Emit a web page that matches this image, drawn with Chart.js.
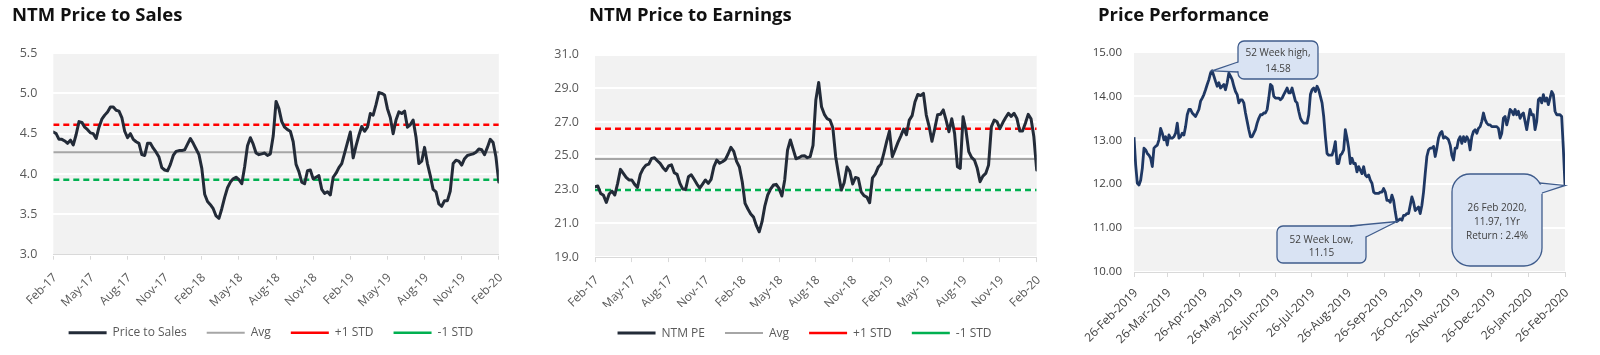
<!DOCTYPE html>
<html><head><meta charset="utf-8">
<script src="https://cdn.jsdelivr.net/npm/chart.js@4.4.1/dist/chart.umd.min.js"></script>
<style>
html,body{margin:0;padding:0;background:#fff;width:1600px;height:355px;overflow:hidden;}
.panel{position:absolute;top:0;height:355px;}
.panel canvas{position:absolute;left:0;top:0;}
.title{position:absolute;top:1px;font-family:"Open Sans",sans-serif;font-weight:bold;font-size:18.5px;color:#111;white-space:nowrap;}
</style></head><body>
<div class="panel" style="left:0;width:520px"><canvas id="c1" width="520" height="355"></canvas><div class="title" style="left:12px">NTM Price to Sales</div></div>
<div class="panel" style="left:540px;width:520px"><canvas id="c2" width="520" height="355"></canvas><div class="title" style="left:49px">NTM Price to Earnings</div></div>
<div class="panel" style="left:1070px;width:530px"><canvas id="c3" width="530" height="355"></canvas><div class="title" style="left:28px">Price Performance</div></div>
<script>
// ---------- DATA ----------
const QUARTER_LABELS = ['Feb-17','May-17','Aug-17','Nov-17','Feb-18','May-18','Aug-18','Nov-18','Feb-19','May-19','Aug-19','Nov-19','Feb-20'];
const WEEKS_PER_QUARTER = 13;

// NTM Price to Sales, weekly
const PS_VALUES = [
4.52,4.50,4.43,4.43,4.41,4.38,4.42,4.36,4.49,4.65,
4.64,4.58,4.55,4.51,4.50,4.44,4.58,4.68,4.73,4.77,
4.83,4.83,4.79,4.78,4.70,4.53,4.45,4.50,4.43,4.40,
4.38,4.24,4.23,4.38,4.38,4.32,4.27,4.21,4.08,4.05,
4.04,4.12,4.23,4.28,4.29,4.29,4.30,4.37,4.44,4.38,
4.31,4.24,4.07,3.75,3.66,3.62,3.57,3.48,3.45,3.57,
3.71,3.83,3.90,3.94,3.96,3.93,3.88,4.09,4.35,4.45,
4.37,4.26,4.24,4.25,4.26,4.23,4.25,4.47,4.90,4.81,
4.65,4.58,4.55,4.53,4.40,4.12,4.03,3.90,3.88,4.04,
4.05,3.94,3.96,3.98,3.81,3.76,3.78,3.74,3.96,4.01,
4.08,4.13,4.26,4.39,4.52,4.20,4.35,4.48,4.59,4.53,
4.58,4.75,4.73,4.86,5.01,5.00,4.98,4.81,4.70,4.50,
4.67,4.77,4.75,4.78,4.58,4.61,4.67,4.46,4.13,4.16,
4.33,4.13,3.98,3.81,3.78,3.63,3.60,3.67,3.67,3.79,
4.13,4.17,4.16,4.11,4.19,4.23,4.24,4.25,4.27,4.31,
4.30,4.24,4.33,4.43,4.39,4.21,3.90];
const PS_AVG = 4.27, PS_PLUS1 = 4.61, PS_MINUS1 = 3.93;

// NTM Price to Earnings, weekly
const PE_VALUES = [
23.17,23.21,22.77,22.66,22.24,22.74,22.91,22.68,23.37,24.20,
23.96,23.72,23.57,23.57,23.31,23.13,23.90,24.24,24.45,24.51,
24.85,24.89,24.71,24.55,24.30,24.12,24.40,24.47,24.00,23.90,
23.37,23.03,23.01,23.76,23.88,23.61,23.33,23.09,23.33,23.57,
23.37,23.61,24.36,24.75,24.57,24.65,24.77,25.11,25.50,25.27,
24.67,24.34,23.47,22.18,21.85,21.55,21.37,20.86,20.50,21.10,
22.04,22.68,23.03,23.27,23.31,23.07,22.62,23.57,25.34,25.94,
25.38,24.83,24.89,24.99,25.01,24.89,24.95,25.62,28.31,29.35,
27.91,27.46,27.20,27.12,26.67,24.95,23.92,22.97,23.41,24.34,
24.08,23.33,23.72,23.66,22.87,22.64,22.56,22.22,23.70,23.92,
24.32,24.51,25.15,25.84,26.47,24.95,25.36,25.80,26.17,26.59,
26.25,27.12,27.38,28.19,28.64,28.57,28.70,27.42,26.75,25.86,
26.61,27.44,27.46,27.72,27.12,26.43,27.20,26.33,24.36,24.26,
27.32,26.53,25.25,24.91,24.75,24.26,23.47,23.80,23.96,24.45,
26.73,27.12,27.02,26.61,26.96,27.26,27.52,27.34,27.52,27.22,
26.47,26.47,26.93,27.46,27.20,26.13,24.16];
const PE_AVG = 24.81, PE_PLUS1 = 26.61, PE_MINUS1 = 22.97;

// Price performance, 26-Feb-2019 .. 26-Feb-2020 (trading sessions)
const PP_PRICES = [
13.07,
12.44,12.02,11.98,12.09,12.36,12.82,12.78,12.70,12.66,12.59,
12.40,12.82,12.86,12.89,13.01,13.27,13.16,13.01,13.08,12.89,
13.12,13.05,13.05,13.08,13.16,13.39,13.05,13.08,13.16,13.12,
13.31,13.58,13.70,13.70,13.62,13.58,13.54,13.62,13.70,13.89,
13.96,14.04,14.15,14.27,14.38,14.53,14.58,14.46,14.34,14.23,
14.31,14.19,14.23,14.27,14.15,14.31,14.53,14.46,14.38,14.23,
14.11,14.04,13.85,13.92,13.92,13.85,13.62,13.43,13.24,13.08,
13.08,13.16,13.24,13.39,13.50,13.58,13.58,13.62,13.62,13.70,
13.96,14.27,14.23,14.00,13.96,13.96,13.96,13.92,13.96,14.04,
14.11,14.19,14.08,14.08,14.19,14.04,13.89,13.85,13.66,13.50,
13.43,13.39,13.39,13.39,13.58,14.04,14.15,14.19,14.11,14.23,
14.15,14.00,13.85,13.54,13.08,12.70,12.66,12.66,12.66,12.78,
12.97,12.47,12.47,12.66,12.70,12.78,13.24,13.05,12.82,12.47,
12.59,12.47,12.47,12.28,12.40,12.32,12.24,12.40,12.21,12.17,
12.21,12.09,12.02,11.82,11.79,11.79,11.79,11.82,11.82,11.90,
11.82,11.63,11.63,11.59,11.75,11.63,11.37,11.15,11.18,11.21,
11.18,11.29,11.29,11.33,11.33,11.52,11.71,11.59,11.40,11.44,
11.48,11.33,11.52,11.82,12.24,12.63,12.78,12.82,12.82,12.86,
12.63,12.82,13.05,13.16,13.20,13.05,13.08,13.05,13.01,12.89,
12.66,12.55,12.82,12.82,13.01,13.08,12.93,13.08,12.97,13.08,
13.01,12.78,13.08,13.20,13.24,13.16,13.27,13.31,13.43,13.62,
13.47,13.39,13.35,13.35,13.31,13.31,13.31,13.31,13.27,13.05,
13.16,13.50,13.54,13.35,13.50,13.70,13.66,13.58,13.70,13.58,
13.66,13.50,13.58,13.62,13.43,13.24,13.47,13.70,13.58,13.58,
13.24,13.43,13.92,13.96,13.85,14.04,13.89,13.96,13.81,13.96,
14.11,14.04,13.66,13.58,13.58,13.58,13.54,12.82,11.97];
const PP_SPAN_DAYS = 365;
const PP_TICK_DAYS = [0,28,59,89,120,150,181,212,242,273,303,334,365];
const PP_TICK_LABELS = ['26-Feb-2019','26-Mar-2019','26-Apr-2019','26-May-2019','26-Jun-2019','26-Jul-2019','26-Aug-2019','26-Sep-2019','26-Oct-2019','26-Nov-2019','26-Dec-2019','26-Jan-2020','26-Feb-2020'];
const NOTE_HIGH = ['52 Week high,','14.58'];
const NOTE_LOW = ['52 Week Low,','11.15'];
const NOTE_LAST = ['26 Feb 2020,','11.97, 1Yr','Return : 2.4%'];

// ---------- CHARTS ----------
Chart.defaults.font.family = '"Open Sans", sans-serif';
Chart.defaults.animation = false;

const plotBg = {
  id: 'plotBg',
  beforeDraw(chart, args, opts) {
    const {ctx, chartArea: a} = chart;
    ctx.save();
    ctx.fillStyle = opts.color || '#f2f2f2';
    ctx.fillRect(a.left, a.top, a.right - a.left, a.bottom - a.top);
    ctx.restore();
  }
};
const legendShift = {
  id: 'legendShift',
  afterLayout(chart, args, opts) {
    if (chart.legend && opts.dx) { chart.legend.left += opts.dx; chart.legend.right += opts.dx; }
  }
};

function weekly(values) { return values.map((v, i) => ({x: i, y: v})); }
function flat(values, level) { return values.map((v, i) => ({x: i, y: level})); }

function valuationChart(canvasId, mainLabel, values, avg, plus1, minus1, yMin, yMax, yStep, yDec, pad, yWidth, xHeight, legendDx) {
  const qTicks = QUARTER_LABELS.map((l, k) => k * WEEKS_PER_QUARTER);
  return new Chart(document.getElementById(canvasId), {
    type: 'line',
    data: {datasets: [
      {label: mainLabel, data: weekly(values), borderColor: '#232b38', borderWidth: 3, pointRadius: 0, borderJoinStyle: 'round', borderCapStyle: 'round'},
      {label: 'Avg', data: flat(values, avg), borderColor: '#a6a6a6', borderWidth: 2, pointRadius: 0},
      {label: '+1 STD', data: flat(values, plus1), borderColor: '#ff0000', borderWidth: 2.5, borderDash: [6, 4], pointRadius: 0},
      {label: '-1 STD', data: flat(values, minus1), borderColor: '#00b050', borderWidth: 2.5, borderDash: [6, 4], pointRadius: 0}
    ]},
    options: {
      responsive: false,
      layout: {padding: pad},
      scales: {
        x: {
          type: 'linear', min: 0, max: (QUARTER_LABELS.length - 1) * WEEKS_PER_QUARTER,
          afterBuildTicks: s => { s.ticks = qTicks.map(v => ({value: v})); },
          afterFit: s => { s.height = xHeight; },
          ticks: {autoSkip: false, minRotation: 45, maxRotation: 45, padding: 11, labelOffset: 2, color: '#595959', font: {size: 12},
                  callback: v => QUARTER_LABELS[Math.round(v / WEEKS_PER_QUARTER)]},
          grid: {drawOnChartArea: false, drawTicks: true, tickLength: 5, color: '#d9d9d9'},
          border: {color: '#d9d9d9'}
        },
        y: {
          min: yMin, max: yMax,
          afterFit: s => { s.width = yWidth; },
          ticks: {stepSize: yStep, padding: 16, color: '#595959', font: {size: 12.5}, callback: v => Number(v).toFixed(yDec)},
          grid: {color: '#ffffff', lineWidth: 2, drawTicks: false},
          border: {display: false}
        }
      },
      plugins: {
        legend: {position: 'bottom', labels: {usePointStyle: true, pointStyle: 'line', pointStyleWidth: 38, padding: 20, color: '#595959', font: {size: 12}}},
        legendShift: {dx: legendDx},
        tooltip: {enabled: false},
        plotBg: {color: '#f2f2f2'}
      }
    },
    plugins: [plotBg, legendShift]
  });
}

valuationChart('c1', 'Price to Sales', PS_VALUES, PS_AVG, PS_PLUS1, PS_MINUS1, 3, 5.5, 0.5, 1,
  {left: 0, right: 16.7, top: 53, bottom: 6.3}, 53.3, 52, 19.3);
valuationChart('c2', 'NTM PE', PE_VALUES, PE_AVG, PE_PLUS1, PE_MINUS1, 19, 31, 2, 1,
  {left: 0, right: 23.3, top: 54.6, bottom: 5.9}, 55, 50, 16.2);

// Callouts for price chart
function roundRectPath(ctx, x, y, w, h, r) {
  ctx.beginPath();
  ctx.moveTo(x + r, y);
  ctx.arcTo(x + w, y, x + w, y + h, r);
  ctx.arcTo(x + w, y + h, x, y + h, r);
  ctx.arcTo(x, y + h, x, y, r);
  ctx.arcTo(x, y, x + w, y, r);
  ctx.closePath();
}
const callouts = {
  id: 'callouts',
  afterDatasetsDraw(chart, args, opts) {
    const ctx = chart.ctx;
    const meta = chart.getDatasetMeta(0);
    opts.items.forEach(it => {
      const p = meta.data[it.index];
      const [bx, by, bw, bh] = it.box;
      ctx.save();
      ctx.lineWidth = 1.3;
      ctx.strokeStyle = '#3f5c8c';
      ctx.fillStyle = '#d9e3f3';
      roundRectPath(ctx, bx, by, bw, bh, it.r);
      ctx.fill(); ctx.stroke();
      const [b1, b2] = it.base;
      const cx = bx + bw / 2, cy = by + bh / 2;
      const inward = q => { const dx = cx - q[0], dy = cy - q[1]; const d = Math.hypot(dx, dy) || 1; return [q[0] + dx / d * 2.2, q[1] + dy / d * 2.2]; };
      const i1 = inward(b1), i2 = inward(b2);
      ctx.beginPath(); ctx.moveTo(i1[0], i1[1]); ctx.lineTo(p.x, p.y); ctx.lineTo(i2[0], i2[1]); ctx.closePath(); ctx.fill();
      ctx.beginPath(); ctx.moveTo(b1[0], b1[1]); ctx.lineTo(p.x, p.y); ctx.lineTo(b2[0], b2[1]); ctx.stroke();
      ctx.fillStyle = '#404040';
      ctx.font = '10px "Open Sans", sans-serif';
      ctx.textAlign = 'center'; ctx.textBaseline = 'middle';
      it.lines.forEach((t, k) => ctx.fillText(t, cx, by + it.firstLine + k * it.lineGap));
      ctx.restore();
    });
  }
};

const ppMax = PP_PRICES.indexOf(Math.max(...PP_PRICES));
const ppMin = PP_PRICES.indexOf(Math.min(...PP_PRICES));
const ppLast = PP_PRICES.length - 1;

new Chart(document.getElementById('c3'), {
  type: 'line',
  data: {datasets: [{
    label: 'Price', data: PP_PRICES.map((v, i) => ({x: i * PP_SPAN_DAYS / ppLast, y: v})),
    borderColor: '#1f3864', borderWidth: 2.8, pointRadius: 0, borderJoinStyle: 'round'
  }]},
  options: {
    responsive: false,
    layout: {padding: {left: 0, right: 35, top: 52.4, bottom: 0}},
    scales: {
      x: {
        type: 'linear', min: 0, max: PP_SPAN_DAYS,
        afterBuildTicks: s => { s.ticks = PP_TICK_DAYS.map(v => ({value: v})); },
        afterFit: s => { s.height = 83; },
        ticks: {autoSkip: false, minRotation: 45, maxRotation: 45, padding: 9, labelOffset: 2, color: '#404040', font: {size: 12},
                callback: (v, i) => PP_TICK_LABELS[i]},
        grid: {drawOnChartArea: false, drawTicks: true, tickLength: 5, color: '#d9d9d9'},
        border: {color: '#d9d9d9'}
      },
      y: {
        min: 10, max: 15,
        afterFit: s => { s.width = 64; },
        ticks: {stepSize: 1, padding: 12, color: '#404040', font: {size: 11.5}, callback: v => Number(v).toFixed(2)},
        grid: {color: '#ffffff', lineWidth: 2, drawTicks: false},
        border: {display: false}
      }
    },
    plugins: {
      legend: {display: false},
      tooltip: {enabled: false},
      plotBg: {color: '#f2f2f2'},
      callouts: {items: [
        {index: ppMax, box: [168, 41, 80, 38], r: 6, base: [[168, 62], [168, 72]], lines: NOTE_HIGH, firstLine: 12.3, lineGap: 16},
        {index: ppMin, box: [207, 226, 89, 37], r: 6, base: [[280, 226], [296, 237]], lines: NOTE_LOW, firstLine: 14, lineGap: 12.7},
        {index: ppLast, box: [382, 174, 90, 92], r: 18, base: [[469.5, 183], [472, 193]], lines: NOTE_LAST, firstLine: 33.7, lineGap: 14}
      ]}
    }
  },
  plugins: [plotBg, callouts]
});
</script>
</body></html>
